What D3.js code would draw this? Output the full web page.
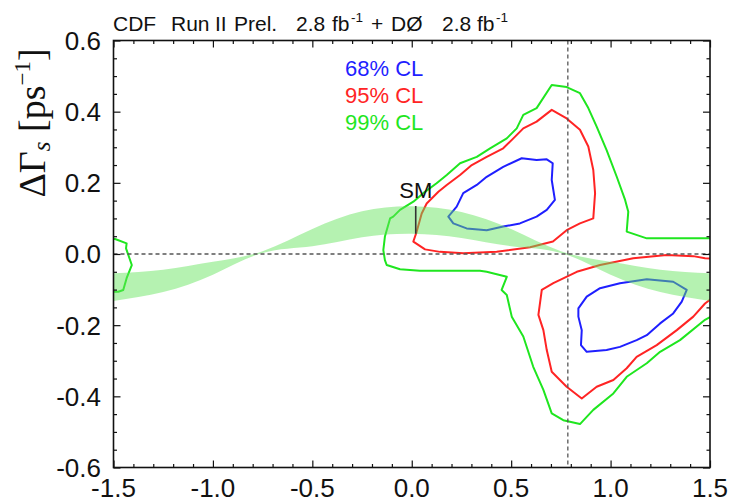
<!DOCTYPE html>
<html>
<head>
<meta charset="utf-8">
<script src="https://cdn.jsdelivr.net/npm/d3@7"></script>
<style>
  body { margin: 0; background: #fff; }
  svg { display: block; }
</style>
</head>
<body>
<svg id="chart" width="734" height="503"></svg>
<script>
// ---- axes ----
const xDomain = [-1.5, 1.5];
const yDomain = [-0.6, 0.6];
const xMajorTicks = [-1.5, -1.0, -0.5, 0.0, 0.5, 1.0, 1.5];
const xTickLabels = ["-1.5", "-1.0", "-0.5", "0.0", "0.5", "1.0", "1.5"];
const yMajorTicks = [-0.6, -0.4, -0.2, 0.0, 0.2, 0.4, 0.6];
const yTickLabels = ["-0.6", "-0.4", "-0.2", "0.0", "0.2", "0.4", "0.6"];
const xMinorStep = 0.1;
const yMinorStep = 0.05;

// reference lines: beta_s = pi/4 and DeltaGamma_s = 0
const refX = 0.785;
const refY = 0.0;

// Standard Model point with its DeltaGamma_s uncertainty
const smPoint = { x: 0.02, y: 0.096, err: 0.039, label: "SM" };

// theory band: DeltaGamma_s = 2|Gamma12| cos(2 beta_s) range
const bandX      = [-1.5,   -1.25,  -1.0,   -0.75, -0.5,  -0.25, 0.0,   0.25,  0.5,   0.75,  1.0,    1.25,   1.5];
const bandTop    = [-0.054, -0.044, -0.022,  0.008, 0.070, 0.120, 0.134, 0.118, 0.070, 0.008, -0.022, -0.044, -0.054];
const bandBottom = [-0.132, -0.107, -0.058,  0.003, 0.022, 0.047, 0.057, 0.045, 0.022, 0.003, -0.058, -0.107, -0.132];

// confidence-level contours, [beta_s, DeltaGamma_s]
const cl68Upper = [
  [0.184, 0.105], [0.226, 0.133], [0.259, 0.171], [0.327, 0.194], [0.377, 0.217],
  [0.460, 0.245], [0.553, 0.269], [0.628, 0.264], [0.679, 0.266], [0.709, 0.255],
  [0.704, 0.208], [0.720, 0.152], [0.679, 0.124], [0.628, 0.105], [0.544, 0.086],
  [0.460, 0.077], [0.377, 0.067], [0.276, 0.072], [0.209, 0.086]
];
const cl68Lower = [
  [0.838, -0.153], [0.880, -0.120], [0.947, -0.096], [1.047, -0.082], [1.182, -0.071],
  [1.315, -0.078], [1.383, -0.101], [1.358, -0.134], [1.315, -0.167], [1.249, -0.195],
  [1.182, -0.228], [1.131, -0.242], [1.047, -0.261], [0.980, -0.270], [0.880, -0.275],
  [0.851, -0.256], [0.855, -0.214], [0.838, -0.176]
];
const cl95Upper = [
  [0.008, 0.035], [0.067, 0.013], [0.142, 0.006], [0.259, 0.002], [0.427, 0.006],
  [0.595, 0.019], [0.710, 0.035], [0.779, 0.067], [0.846, 0.086], [0.913, 0.100],
  [0.922, 0.171], [0.913, 0.236], [0.888, 0.302], [0.846, 0.349], [0.779, 0.381],
  [0.704, 0.405], [0.628, 0.372], [0.561, 0.353], [0.511, 0.325], [0.460, 0.297],
  [0.377, 0.273], [0.302, 0.250], [0.243, 0.222], [0.176, 0.194], [0.134, 0.175],
  [0.075, 0.142], [0.050, 0.114], [0.025, 0.063]
];
const cl95Lower = [
  [1.510, -0.013], [1.475, -0.012], [1.416, -0.006], [1.282, -0.003], [1.114, -0.012],
  [0.947, -0.031], [0.830, -0.050], [0.712, -0.082], [0.654, -0.101], [0.637, -0.171],
  [0.662, -0.214], [0.679, -0.270], [0.704, -0.331], [0.779, -0.373], [0.855, -0.406],
  [0.930, -0.373], [1.014, -0.354], [1.081, -0.321], [1.131, -0.289], [1.232, -0.256],
  [1.333, -0.214], [1.416, -0.176], [1.475, -0.139], [1.510, -0.124]
];
const cl99Main = [
  [1.520, 0.044], [1.483, 0.044], [1.182, 0.044], [1.081, 0.063], [1.089, 0.119],
  [1.073, 0.152], [1.031, 0.217], [0.980, 0.292], [0.930, 0.358], [0.888, 0.410],
  [0.846, 0.452], [0.779, 0.469], [0.704, 0.475], [0.628, 0.410], [0.561, 0.391],
  [0.528, 0.353], [0.478, 0.325], [0.394, 0.297], [0.327, 0.273], [0.243, 0.255],
  [0.176, 0.222], [0.125, 0.199], [0.058, 0.171], [0.008, 0.147], [-0.059, 0.124],
  [-0.093, 0.105], [-0.109, 0.100], [-0.135, 0.049], [-0.143, 0.011], [-0.135, -0.017],
  [-0.126, -0.031], [-0.059, -0.043], [0.041, -0.047], [0.343, -0.047], [0.377, -0.050],
  [0.478, -0.064], [0.452, -0.101], [0.478, -0.115], [0.503, -0.176], [0.561, -0.232],
  [0.611, -0.317], [0.662, -0.382], [0.704, -0.448], [0.762, -0.467], [0.846, -0.478],
  [0.913, -0.438], [1.014, -0.392], [1.081, -0.345], [1.182, -0.307], [1.249, -0.275],
  [1.349, -0.242], [1.475, -0.185], [1.520, -0.171]
];
const cl99Edge = [
  [-1.520, 0.042], [-1.492, 0.042], [-1.434, 0.030], [-1.437, 0.016], [-1.408, -0.031],
  [-1.434, -0.068], [-1.451, -0.101], [-1.476, -0.106], [-1.520, -0.106]
];

const legendLabels = ["68% CL", "95% CL", "99% CL"];
const levelColors = ["#1f1fff", "#ff2424", "#1fe61f"];

// header words: [text, x, superscript?]
const titleWords = [
  ["CDF", 113, false], ["Run", 171, false], ["II", 215, false], ["Prel.", 234, false],
  ["2.8", 296, false], ["fb", 332, false], ["-1", 351, true], ["+", 371, false],
  ["D\u00d8", 391, false], ["2.8", 442, false], ["fb", 477, false], ["-1", 496, true]
];

// ---- layout ----
const svg = d3.select("#chart");
const plot = { left: 113.5, right: 710, top: 40.5, bottom: 467.5 };

const x = d3.scaleLinear().domain(xDomain).range([plot.left, plot.right]);
const y = d3.scaleLinear().domain(yDomain).range([plot.bottom, plot.top]);

svg.append("defs").append("clipPath").attr("id", "plotClip")
  .append("rect")
  .attr("x", plot.left).attr("y", plot.top)
  .attr("width", plot.right - plot.left).attr("height", plot.bottom - plot.top);

const inner = svg.append("g").attr("clip-path", "url(#plotClip)");

// contours
const closedLine = d3.line().x(d => x(d[0])).y(d => y(d[1])).curve(d3.curveLinearClosed);
const contours = [
  { pts: cl99Main, c: 2 }, { pts: cl99Edge, c: 2 },
  { pts: cl95Upper, c: 1 }, { pts: cl95Lower, c: 1 },
  { pts: cl68Upper, c: 0 }, { pts: cl68Lower, c: 0 }
];
inner.selectAll("path.contour").data(contours).join("path")
  .attr("class", "contour")
  .attr("d", d => closedLine(d.pts))
  .attr("fill", "none")
  .attr("stroke", d => levelColors[d.c])
  .attr("stroke-width", 2)
  .attr("stroke-linejoin", "round");

// theory band (translucent, over the contours)
const bandData = bandX.map((v, i) => ({ x: v, t: bandTop[i], b: bandBottom[i] }));
const band = d3.area().x(d => x(d.x)).y0(d => y(d.b)).y1(d => y(d.t)).curve(d3.curveNatural);
inner.append("path")
  .attr("d", band(bandData))
  .attr("fill", "rgb(100,228,92)")
  .attr("fill-opacity", 0.48);

// dashed reference lines
inner.append("line")
  .attr("x1", plot.left).attr("x2", plot.right)
  .attr("y1", y(refY)).attr("y2", y(refY))
  .attr("stroke", "#555").attr("stroke-width", 1.3).attr("stroke-dasharray", "4,3");
inner.append("line")
  .attr("x1", x(refX)).attr("x2", x(refX))
  .attr("y1", plot.top).attr("y2", plot.bottom)
  .attr("stroke", "#555").attr("stroke-width", 1.3).attr("stroke-dasharray", "4,3");

// SM marker
inner.append("line")
  .attr("x1", x(smPoint.x)).attr("x2", x(smPoint.x))
  .attr("y1", y(smPoint.y - smPoint.err)).attr("y2", y(smPoint.y + smPoint.err))
  .attr("stroke", "#333").attr("stroke-width", 1.6);
svg.append("text")
  .attr("x", x(smPoint.x)).attr("y", y(smPoint.y + smPoint.err) - 8)
  .attr("text-anchor", "middle")
  .attr("font-family", "Liberation Sans, Arial, sans-serif")
  .attr("font-size", 22)
  .attr("fill", "#111")
  .text(smPoint.label);

// ---- axes: frame, inward ticks on all sides ----
const xMinor = d3.range(Math.round((xDomain[1] - xDomain[0]) / xMinorStep) + 1)
  .map(i => +(xDomain[0] + i * xMinorStep).toFixed(3))
  .filter(v => !xMajorTicks.some(m => Math.abs(m - v) < 1e-6));
const yMinor = d3.range(Math.round((yDomain[1] - yDomain[0]) / yMinorStep) + 1)
  .map(i => +(yDomain[0] + i * yMinorStep).toFixed(3))
  .filter(v => !yMajorTicks.some(m => Math.abs(m - v) < 1e-6));

function tickAxis(axisFn, scale, values, size, transform) {
  const g = svg.append("g").attr("transform", transform)
    .call(axisFn(scale).tickValues(values).tickSize(size).tickFormat(""));
  g.select(".domain").remove();
  g.selectAll(".tick line").attr("stroke", "#111").attr("stroke-width", 1.2);
}
tickAxis(d3.axisBottom, x, xMajorTicks, -7, `translate(0,${plot.bottom})`);
tickAxis(d3.axisBottom, x, xMinor, -3.5, `translate(0,${plot.bottom})`);
tickAxis(d3.axisTop, x, xMajorTicks, -7, `translate(0,${plot.top})`);
tickAxis(d3.axisTop, x, xMinor, -3.5, `translate(0,${plot.top})`);
tickAxis(d3.axisLeft, y, yMajorTicks, -7, `translate(${plot.left},0)`);
tickAxis(d3.axisLeft, y, yMinor, -3.5, `translate(${plot.left},0)`);
tickAxis(d3.axisRight, y, yMajorTicks, -7, `translate(${plot.right},0)`);
tickAxis(d3.axisRight, y, yMinor, -3.5, `translate(${plot.right},0)`);

svg.append("rect")
  .attr("x", plot.left).attr("y", plot.top)
  .attr("width", plot.right - plot.left).attr("height", plot.bottom - plot.top)
  .attr("fill", "none").attr("stroke", "#111").attr("stroke-width", 1.6);

// tick labels
const labelFont = "Liberation Sans, Arial, Helvetica, sans-serif";
svg.append("g").selectAll("text").data(xMajorTicks).join("text")
  .attr("x", d => x(d)).attr("y", 497)
  .attr("text-anchor", "middle")
  .attr("font-family", labelFont).attr("font-size", 26).attr("fill", "#111")
  .text((d, i) => xTickLabels[i]);
svg.append("g").selectAll("text").data(yMajorTicks).join("text")
  .attr("x", 101).attr("y", d => y(d)).attr("dy", "0.36em")
  .attr("text-anchor", "end")
  .attr("font-family", labelFont).attr("font-size", 26).attr("fill", "#111")
  .text((d, i) => yTickLabels[i]);

// y axis title
const yTitle = svg.append("text")
  .attr("transform", "translate(45,123) rotate(-90)")
  .attr("text-anchor", "middle")
  .attr("font-family", "Liberation Serif, Times New Roman, serif")
  .attr("font-size", 38).attr("fill", "#111");
yTitle.append("tspan").text("\u0394\u0393");
yTitle.append("tspan").attr("font-size", 25).attr("font-style", "italic").attr("dy", 5).text("s");
yTitle.append("tspan").attr("dy", -5).text(" [ps");
yTitle.append("tspan").attr("font-size", 23).attr("dy", -15).text("\u22121");
yTitle.append("tspan").attr("dy", 15).text("]");

// header
svg.append("g").selectAll("text").data(titleWords).join("text")
  .attr("x", d => d[1]).attr("y", d => d[2] ? 22 : 31)
  .attr("font-family", labelFont)
  .attr("font-size", d => d[2] ? 13.5 : 21)
  .attr("fill", "#111")
  .text(d => d[0]);

// legend
svg.append("g").selectAll("text").data(legendLabels).join("text")
  .attr("x", 345).attr("y", (d, i) => 76 + i * 27)
  .attr("font-family", labelFont).attr("font-size", 22)
  .attr("fill", (d, i) => levelColors[i])
  .text(d => d);
</script>
</body>
</html>
